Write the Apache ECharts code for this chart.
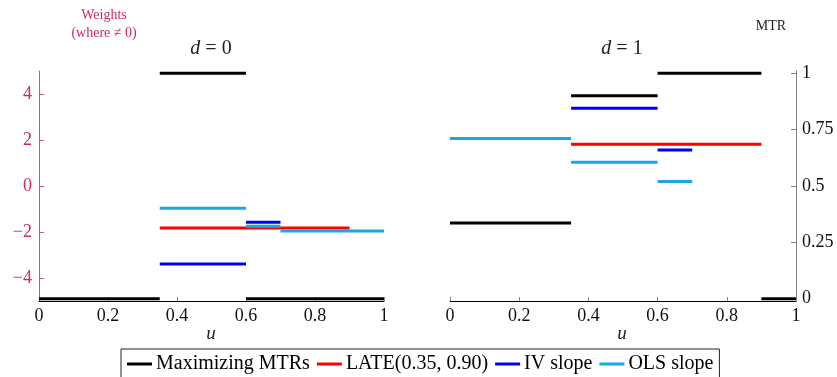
<!DOCTYPE html>
<html>
<head>
<meta charset="utf-8">
<script src="https://cdn.jsdelivr.net/npm/echarts@6/dist/echarts.min.js"></script>
<style>
  html, body { margin: 0; padding: 0; background: #fff; }
  #chart { width: 837px; height: 377px; }
</style>
</head>
<body>
<div id="chart"></div>
<script>
// segments are [from u, to u, value]; MTR values sit on the right 0..1 scale, weights on the left one
const mtrD0 = [[0, 0.35, 0], [0.35, 0.6, 1], [0.6, 1, 0]];
const lateD0 = [[0.35, 0.9, -1.83]];
const ivD0 = [[0.35, 0.6, -3.39], [0.6, 0.7, -1.58]];
const olsD0 = [[0.35, 0.6, -0.97], [0.6, 0.7, -1.75], [0.7, 1, -1.96]];

const mtrD1 = [[0, 0.35, 0.336], [0.35, 0.6, 0.9], [0.6, 0.9, 1], [0.9, 1, 0]];
const lateD1 = [[0.35, 0.9, 1.81]];
const ivD1 = [[0.35, 0.6, 3.38], [0.6, 0.7, 1.57]];
const olsD1 = [[0, 0.35, 2.07], [0.35, 0.6, 1.03], [0.6, 0.7, 0.2]];

const weightTicks = [-4, -2, 0, 2, 4];
const mtrTicks = [0, 0.25, 0.5, 0.75, 1];
const legendNames = ['Maximizing MTRs', 'LATE(0.35, 0.90)', 'IV slope', 'OLS slope'];
const colors = ['#000000', '#ff0000', '#0000f0', '#17a8e4'];

const serif = '"Liberation Serif", "DejaVu Serif", serif';
const crimson = '#cc2a5f';

let chart = echarts.init(document.getElementById('chart'));

function segSeries(segs, name, color, grid, yIdx) {
  return segs.map(s => ({
    type: 'line',
    name: name,
    xAxisIndex: grid,
    yAxisIndex: yIdx,
    data: [[s[0], s[2]], [s[1], s[2]]],
    symbol: 'none',
    color: color,
    lineStyle: { width: 3, color: color },
    silent: true,
    animation: false,
    clip: false
  }));
}

let series = [
  ...segSeries(mtrD0, legendNames[0], colors[0], 0, 1),
  ...segSeries(mtrD1, legendNames[0], colors[0], 1, 3),
  ...segSeries(lateD0, legendNames[1], colors[1], 0, 0),
  ...segSeries(lateD1, legendNames[1], colors[1], 1, 2),
  ...segSeries(ivD0, legendNames[2], colors[2], 0, 0),
  ...segSeries(ivD1, legendNames[2], colors[2], 1, 2),
  ...segSeries(olsD0, legendNames[3], colors[3], 0, 0),
  ...segSeries(olsD1, legendNames[3], colors[3], 1, 2)
];

function xAxisFor(grid) {
  return {
    type: 'value',
    gridIndex: grid,
    min: 0,
    max: 1,
    interval: 0.2,
    axisLine: { onZero: false, lineStyle: { color: '#000', width: 1 } },
    axisTick: { inside: true, length: 4, lineStyle: { color: '#888' } },
    axisLabel: { fontFamily: serif, fontSize: 18, color: '#111', margin: 6 },
    splitLine: { show: false }
  };
}

function fmtWeight(v) {
  return v < 0 ? '\u2212' + Math.abs(v) : String(v);
}

function mathTitle(x, label) {
  return {
    type: 'text', x: x, y: 49,
    style: {
      text: '{i|d} = ' + label, font: '20px ' + serif, fill: '#222', align: 'center', verticalAlign: 'middle',
      rich: { i: { fontStyle: 'italic', fontFamily: serif, fontSize: 20, fill: '#222' } }
    }
  };
}

let option = {
  backgroundColor: '#fff',
  animation: false,
  grid: [
    { left: 39, width: 345, top: 71, height: 230 },
    { left: 450, width: 346, top: 71, height: 230 }
  ],
  xAxis: [xAxisFor(0), xAxisFor(1)],
  yAxis: [
    {
      type: 'value', gridIndex: 0, position: 'left', min: -5, max: 5,
      axisLine: { show: true, lineStyle: { color: '#dc4f80', width: 1 } },
      axisTick: { show: true, inside: true, length: 5, customValues: weightTicks, lineStyle: { color: '#dc4f80' } },
      axisLabel: { customValues: weightTicks, formatter: fmtWeight, fontFamily: serif, fontSize: 18, color: crimson, margin: 7 },
      splitLine: { show: false }
    },
    { type: 'value', gridIndex: 0, position: 'right', min: -0.01, max: 1.01, show: false },
    { type: 'value', gridIndex: 1, position: 'left', min: -5, max: 5, show: false },
    {
      type: 'value', gridIndex: 1, position: 'right', min: -0.01, max: 1.01,
      axisLine: { show: true, lineStyle: { color: '#808080', width: 1 } },
      axisTick: { show: true, inside: true, length: 5, customValues: mtrTicks, lineStyle: { color: '#808080' } },
      axisLabel: { customValues: mtrTicks, fontFamily: serif, fontSize: 18, color: '#111', margin: 6 },
      splitLine: { show: false }
    }
  ],
  legend: {
    data: legendNames,
    left: 121,
    top: 349,
    orient: 'horizontal',
    icon: 'rect',
    itemWidth: 25,
    itemHeight: 3,
    itemGap: 7,
    padding: [5, 6, 14, 6],
    borderColor: '#222',
    borderWidth: 1,
    borderRadius: 0,
    selectedMode: false,
    textStyle: { fontFamily: serif, fontSize: 20, color: '#000', padding: [0, 0, 0, -1] }
  },
  graphic: [
    {
      type: 'text', x: 104, y: 15,
      style: { text: 'Weights', font: '14px ' + serif, fill: crimson, align: 'center', verticalAlign: 'middle' }
    },
    {
      type: 'text', x: 104, y: 33,
      style: { text: '(where \u2260 0)', font: '14px ' + serif, fill: crimson, align: 'center', verticalAlign: 'middle' }
    },
    mathTitle(211, '0'),
    mathTitle(622, '1'),
    {
      type: 'text', x: 771, y: 26,
      style: { text: 'MTR', font: '14px ' + serif, fill: '#222', align: 'center', verticalAlign: 'middle' }
    },
    {
      type: 'text', x: 211, y: 334,
      style: { text: 'u', font: 'italic 19px ' + serif, fill: '#222', align: 'center', verticalAlign: 'middle' }
    },
    {
      type: 'text', x: 622, y: 334,
      style: { text: 'u', font: 'italic 19px ' + serif, fill: '#222', align: 'center', verticalAlign: 'middle' }
    }
  ],
  series: series
};

chart.setOption(option);
</script>
</body>
</html>
